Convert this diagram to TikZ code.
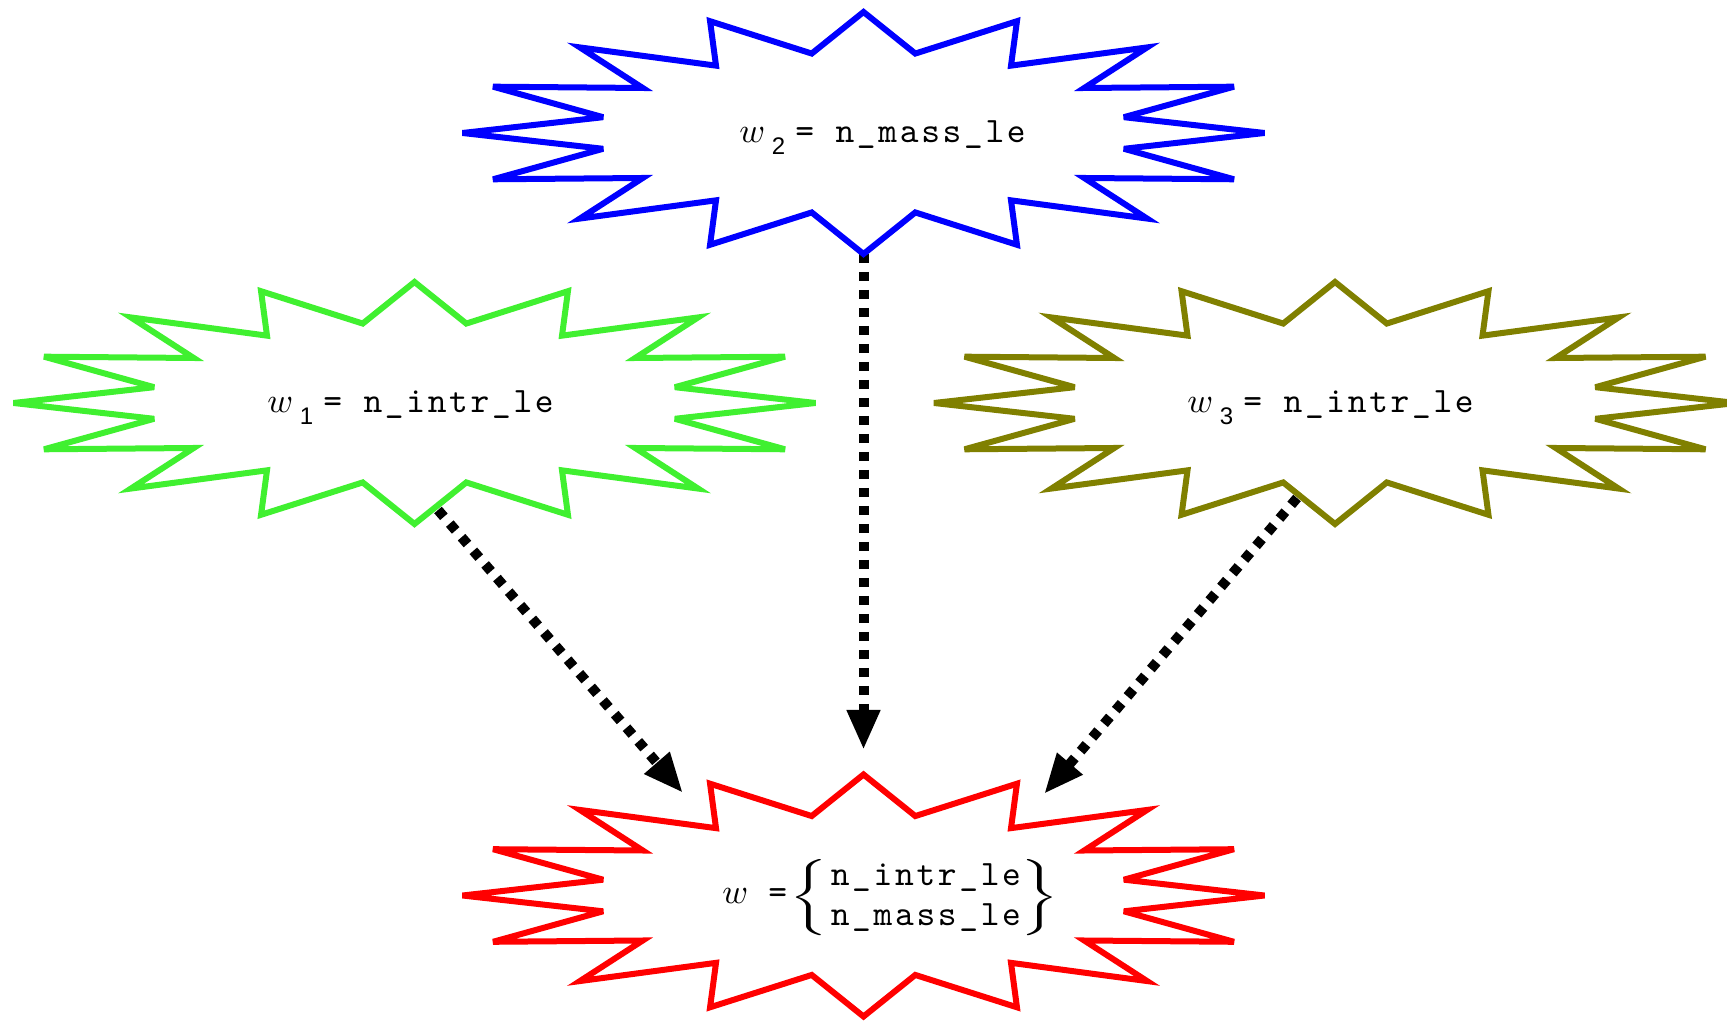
\documentclass[tikz,border=0pt]{standalone}
\usepackage{fontspec}
\setsansfont{Liberation Sans}
\newfontfamily\courfont{lmmono10-regular.otf}[LetterSpace=7.5]
\usetikzlibrary{arrows.meta,calc}
\definecolor{bburst}{RGB}{0,0,255}
\definecolor{gburst}{RGB}{64,240,48}
\definecolor{oburst}{RGB}{128,128,0}
\definecolor{rburst}{RGB}{255,0,0}
\newcommand\burstshape[2]{%
  \draw[burstline,#2] ($(#1)+(401,0)$)
    \foreach \j in {0,...,14}{
      -- ($(#1)+({265.5*cos(\j*22.5+11.25)},{81*sin(\j*22.5+11.25)})$)
      -- ($(#1)+({401*cos(\j*22.5+22.5)},{121*sin(\j*22.5+22.5)})$) }
    -- ($(#1)+({265.5*cos(348.75)},{81*sin(348.75)})$) -- cycle;}
\newcommand\cour{\courfont\fontsize{17.85}{20}\selectfont}
\newcommand\bigw{\scalebox{1.74}{$w$}}
\newcommand\wlab[2]{\makebox[28pt][l]{\bigw\hspace{3.3pt}\raisebox{-6pt}{\sffamily\fontsize{12}{14}\selectfont#1}}{\cour= #2}}
\begin{document}
\begin{tikzpicture}[x=0.5pt,y=0.5pt,
  burstline/.style={line width=3pt, miter limit=5},
  arr/.style={line width=5pt, dash pattern=on 4.5pt off 4.5pt, -{Triangle[length=20pt,width=15.5pt]}},
  lab/.style={inner sep=0pt, anchor=base west}]
\useasboundingbox (0,0) rectangle (1727,1022);
\clip (0,0) rectangle (1727,1022);
\coordinate (bc) at (863.5,889);
\coordinate (gc) at (414.5,619);
\coordinate (oc) at (1335,619);
\coordinate (rc) at (863.5,126.5);
% connector end points
\coordinate (bs) at ($(bc)+(0,-121)$);
\coordinate (rn) at ($(rc)+(0,145.5)$);
\coordinate (gs) at ($(gc)+(23.5,-107)$);
\coordinate (rnw) at ($(rc)+(-180.5,102.5)$);
\coordinate (os) at ($(oc)+(-38,-95)$);
\coordinate (rne) at ($(rc)+(180.5,101.5)$);
\draw[arr] (bs) -- (rn);
\draw[arr] (gs) -- (rnw);
\draw[arr] (os) -- (rne);
\burstshape{bc}{bburst}
\burstshape{gc}{gburst}
\burstshape{oc}{oburst}
\burstshape{rc}{rburst}
\node[lab] (bl) at (739,879) {\wlab{2}{n\_mass\_le}};
\node[lab] (gl) at (267,609) {\wlab{1}{n\_intr\_le}};
\node[lab] (ol) at (1187,609) {\wlab{3}{n\_intr\_le}};
\node[lab] (rl) at (722,119) {\makebox[23pt][l]{\bigw}{\cour=}\hspace{1pt}$\vcenter{\hbox{\scalebox{2.4}[1.27]{$\Bigg\{$}}}\hspace{1.5pt}\vcenter{\baselineskip=20pt\hbox{\cour n\_intr\_le}\hbox{\cour n\_mass\_le}}\vcenter{\hbox{\scalebox{2.4}[1.27]{$\Bigg\}$}}}$};
\end{tikzpicture}
\end{document}
